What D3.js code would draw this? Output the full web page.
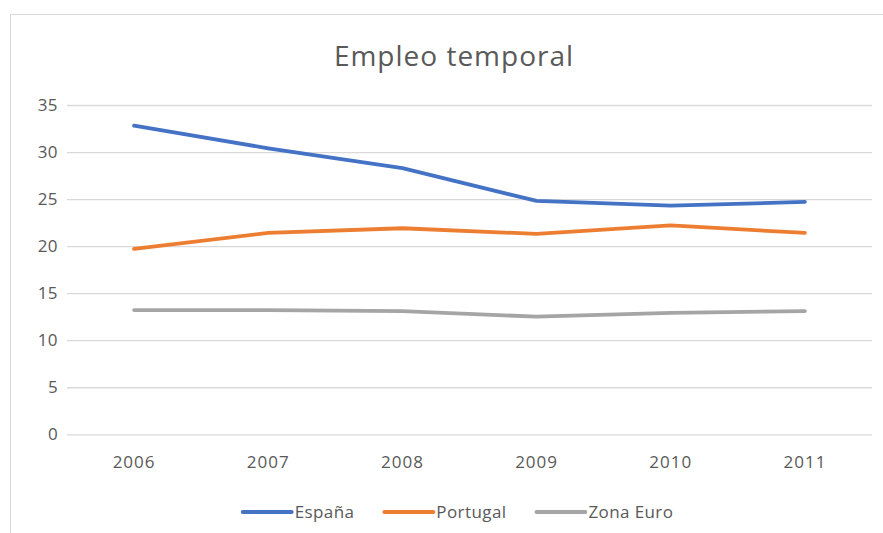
<!DOCTYPE html>
<html>
<head>
<meta charset="utf-8">
<script src="https://cdn.jsdelivr.net/npm/d3@7"></script>
<style>
  html, body { margin: 0; padding: 0; background: #fff; }
  svg { display: block; font-family: "Open Sans", "Noto Sans", sans-serif; }
</style>
</head>
<body>
<svg id="chart" width="883" height="533"></svg>
<script>
// ── Data ──
const years = ["2006", "2007", "2008", "2009", "2010", "2011"];
const espana = [32.8, 30.4, 28.3, 24.8, 24.3, 24.7];
const portugal = [19.7, 21.4, 21.9, 21.3, 22.2, 21.4];
const zonaEuro = [13.2, 13.2, 13.1, 12.5, 12.9, 13.1];
const yTicks = [0, 5, 10, 15, 20, 25, 30, 35];

const series = [
  { name: "España", values: espana, color: "#4472C4" },
  { name: "Portugal", values: portugal, color: "#ED7D31" },
  { name: "Zona Euro", values: zonaEuro, color: "#A5A5A5" }
];

// ── Layout ──
const svg = d3.select("#chart");
const plot = { left: 67, right: 872, top: 105, bottom: 434.3 };
const centerX = 454;
const textColor = "#595959";

// Chart frame (cut off at right / bottom like the screenshot)
svg.append("rect")
  .attr("x", 10.5).attr("y", 14.5)
  .attr("width", 900).attr("height", 600)
  .attr("fill", "#fff")
  .attr("stroke", "#D9D9D9");

const x = d3.scaleBand()
  .domain(years)
  .range([plot.left, plot.right]);

const y = d3.scaleLinear()
  .domain([0, 35])
  .range([plot.bottom, plot.top]);

// Title
svg.append("text")
  .attr("x", centerX).attr("y", 66)
  .attr("text-anchor", "middle")
  .attr("font-size", 28)
  .attr("letter-spacing", 1)
  .attr("fill", textColor)
  .text("Empleo temporal");

// ── Gridlines + y labels ──
const yAxis = svg.append("g")
  .attr("transform", `translate(${plot.left},0)`)
  .call(d3.axisLeft(y).tickValues(yTicks).tickSize(-(plot.right - plot.left)).tickPadding(9));
yAxis.select(".domain").remove();
yAxis.selectAll(".tick line").attr("stroke", "#D9D9D9").attr("stroke-width", 1.3);
yAxis.selectAll(".tick text")
  .attr("font-size", 17)
  .attr("letter-spacing", 0.4)
  .attr("fill", textColor)
  .attr("font-family", "Open Sans, Noto Sans, sans-serif");

// ── X labels ──
const xAxis = svg.append("g")
  .attr("transform", `translate(0,${plot.bottom})`)
  .call(d3.axisBottom(x).tickSize(0).tickPadding(22));
xAxis.select(".domain").remove();
xAxis.selectAll(".tick text")
  .attr("font-size", 17)
  .attr("letter-spacing", 1)
  .attr("fill", textColor)
  .attr("font-family", "Open Sans, Noto Sans, sans-serif");

// ── Lines ──
const line = d3.line()
  .x((d, i) => x(years[i]) + x.bandwidth() / 2)
  .y(d => y(d));

svg.append("g").selectAll("path")
  .data(series)
  .join("path")
  .attr("d", d => line(d.values))
  .attr("fill", "none")
  .attr("stroke", d => d.color)
  .attr("stroke-width", 3.8)
  .attr("stroke-linejoin", "round")
  .attr("stroke-linecap", "round");

// ── Legend ──
const legend = svg.append("g");
const legendY = 512;
const legendCenter = 458;
const swatch = 49, gapAfterSwatch = 3, gapBetween = 30;
const items = legend.selectAll("g")
  .data(series)
  .join("g");
items.append("line")
  .attr("x1", 0).attr("x2", swatch)
  .attr("y1", legendY).attr("y2", legendY)
  .attr("stroke", d => d.color)
  .attr("stroke-width", 3.8)
  .attr("stroke-linecap", "round");
items.append("text")
  .attr("x", swatch + gapAfterSwatch)
  .attr("y", legendY + 6)
  .attr("font-size", 17)
  .attr("letter-spacing", 0.4)
  .attr("fill", textColor)
  .text(d => d.name);

let offset = 0;
const widths = [];
items.each(function () {
  const w = swatch + gapAfterSwatch + d3.select(this).select("text").node().getComputedTextLength();
  widths.push(w);
});
const total = d3.sum(widths) + gapBetween * (widths.length - 1);
items.attr("transform", (d, i) => {
  const tx = legendCenter - total / 2 + offset;
  offset += widths[i] + gapBetween;
  return `translate(${tx},0)`;
});
</script>
</body>
</html>
